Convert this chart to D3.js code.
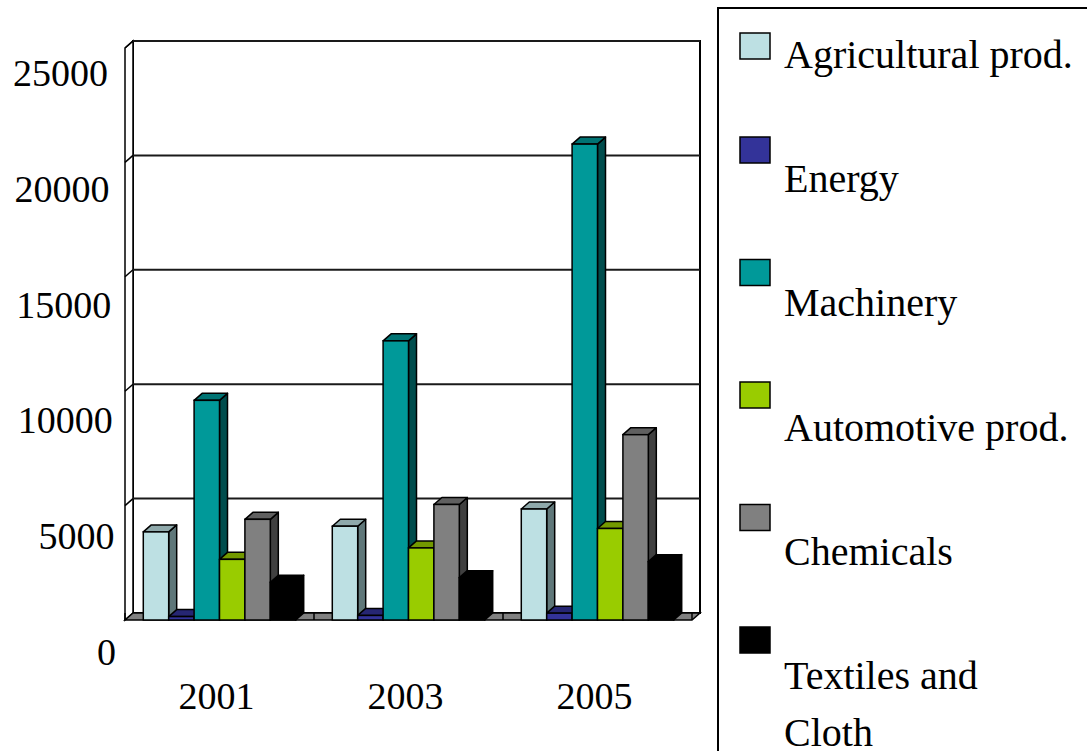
<!DOCTYPE html>
<html>
<head>
<meta charset="utf-8">
<script src="https://cdn.jsdelivr.net/npm/d3@7"></script>
<style>
  body { margin: 0; background: #fff; }
  svg text { font-family: "Liberation Serif", "DejaVu Serif", "Times New Roman", Times, serif; fill: #000; }
</style>
</head>
<body>
<div id="chart"></div>
<script>
// categories and series
const years = ["2001", "2003", "2005"];
const seriesNames = ["Agricultural prod.", "Energy", "Machinery", "Automotive prod.", "Chemicals", "Textiles and Cloth"];
const legendLines = [["Agricultural prod."], ["Energy"], ["Machinery"], ["Automotive prod."], ["Chemicals"], ["Textiles and", "Cloth"]];

// values per year (2001, 2003, 2005)
const agricultural = [3850, 4100, 4850];
const energy = [150, 200, 300];
const machinery = [9600, 12200, 20800];
const automotive = [2650, 3150, 4000];
const chemicals = [4400, 5050, 8100];
const textiles = [1650, 1850, 2550];

const yTicks = [0, 5000, 10000, 15000, 20000, 25000];

// face colours: front, top, side
const faceColors = [
    ["#bde0e3", "#8fa9ab", "#5f7779"],
    ["#333399", "#262673", "#1a1a4d"],
    ["#009999", "#007373", "#004d4d"],
    ["#99cc00", "#739900", "#4d6600"],
    ["#808080", "#606060", "#404040"],
    ["#000000", "#000000", "#000000"]
];

const allSeries = [agricultural, energy, machinery, automotive, chemicals, textiles];

const width = 1087, height = 751;
const depth = { dx: 8, dy: -7 };   // 3D offset from front plane to back wall
const plot = { left: 125, right: 692, bottom: 620, top: 48 };
const serif = '"Liberation Serif", "DejaVu Serif", "Times New Roman", serif';

const svg = d3.select("#chart")
    .append("svg")
    .attr("width", width)
    .attr("height", height)
    .attr("font-family", serif)
    .style("background", "#fff");

// scales on the front plane
const x0 = d3.scaleBand()
    .domain(years)
    .range([plot.left, plot.right]);

const x1 = d3.scaleBand()
    .domain(seriesNames)
    .range([0, x0.bandwidth()])
    .paddingOuter(0.72);

const y = d3.scaleLinear()
    .domain([0, 25000])
    .range([plot.bottom, plot.top]);

// label positions for the value axis
const yLabel = d3.scaleLinear()
    .domain([0, 25000])
    .range([665, 86]);

const bx = plot.left + depth.dx;          // back wall left
const bxr = plot.right + depth.dx;        // back wall right

// back wall
svg.append("rect")
    .attr("x", bx)
    .attr("y", y(25000) + depth.dy)
    .attr("width", bxr - bx)
    .attr("height", y(0) - y(25000))
    .attr("fill", "#fff")
    .attr("stroke", "#000")
    .attr("stroke-width", 2);

// side wall
svg.append("polygon")
    .attr("points", [
        [plot.left, y(0)], [plot.left, y(25000)],
        [bx, y(25000) + depth.dy], [bx, y(0) + depth.dy]
    ].join(" "))
    .attr("fill", "#fff")
    .attr("stroke", "#000")
    .attr("stroke-width", 1.5);

// gridlines on back wall and side wall
const grid = svg.append("g");
grid.selectAll("line.back")
    .data(yTicks.filter(d => d > 0))
    .join("line")
    .attr("class", "back")
    .attr("x1", bx).attr("x2", bxr)
    .attr("y1", d => y(d) + depth.dy).attr("y2", d => y(d) + depth.dy)
    .attr("stroke", "#1a1a1a")
    .attr("stroke-width", 2);
grid.selectAll("line.side")
    .data(yTicks.filter(d => d > 0))
    .join("line")
    .attr("class", "side")
    .attr("x1", plot.left).attr("x2", bx)
    .attr("y1", d => y(d)).attr("y2", d => y(d) + depth.dy)
    .attr("stroke", "#000")
    .attr("stroke-width", 1.5);

// floor
svg.append("polygon")
    .attr("points", [
        [plot.left, y(0)], [plot.right, y(0)],
        [bxr, y(0) + depth.dy], [bx, y(0) + depth.dy]
    ].join(" "))
    .attr("fill", "#808080")
    .attr("stroke", "#000")
    .attr("stroke-width", 1.5);

// category ticks on the floor
svg.append("g")
    .selectAll("line")
    .data(years.map(d => x0(d) + x0.bandwidth()).concat([plot.left]))
    .join("line")
    .attr("x1", d => d).attr("x2", d => d)
    .attr("y1", y(0)).attr("y2", y(0) + depth.dy)
    .attr("stroke", "#000")
    .attr("stroke-width", 1.5);

// bars
const bars = [];
years.forEach((yr, yi) => {
    seriesNames.forEach((s, si) => {
        bars.push({ year: yr, series: s, si: si, value: allSeries[si][yi] });
    });
});

const bw = x1.bandwidth();
const barG = svg.append("g")
    .selectAll("g")
    .data(bars)
    .join("g");

barG.append("polygon")   // side face
    .attr("points", d => {
        const x = x0(d.year) + x1(d.series) + bw, t = y(d.value), b = y(0);
        return [[x, t], [x + depth.dx, t + depth.dy], [x + depth.dx, b + depth.dy], [x, b]].join(" ");
    })
    .attr("fill", d => faceColors[d.si][2])
    .attr("stroke", "#000")
    .attr("stroke-width", 1.5)
    .attr("stroke-linejoin", "round");

barG.append("polygon")   // top face
    .attr("points", d => {
        const x = x0(d.year) + x1(d.series), t = y(d.value);
        return [[x, t], [x + depth.dx, t + depth.dy], [x + bw + depth.dx, t + depth.dy], [x + bw, t]].join(" ");
    })
    .attr("fill", d => faceColors[d.si][1])
    .attr("stroke", "#000")
    .attr("stroke-width", 1.5)
    .attr("stroke-linejoin", "round");

barG.append("rect")      // front face
    .attr("x", d => x0(d.year) + x1(d.series))
    .attr("y", d => y(d.value))
    .attr("width", bw)
    .attr("height", d => y(0) - y(d.value))
    .attr("fill", d => faceColors[d.si][0])
    .attr("stroke", "#000")
    .attr("stroke-width", 1.5);

// value axis labels
svg.append("g")
    .selectAll("text")
    .data(yTicks)
    .join("text")
    .attr("x", d => 108 + 8 * (1 - d / 25000))
    .attr("y", d => yLabel(d))
    .attr("text-anchor", "end")
    .attr("font-family", serif)
    .style("font-size", "38px")
    .text(d => d);

// category labels
svg.append("g")
    .selectAll("text")
    .data(years)
    .join("text")
    .attr("x", d => x0(d) + x0.bandwidth() / 2 - 3)
    .attr("y", 709)
    .attr("text-anchor", "middle")
    .attr("font-family", serif)
    .style("font-size", "38px")
    .text(d => d);

// legend
const legend = svg.append("g");
legend.append("rect")
    .attr("x", 718).attr("y", 8)
    .attr("width", 420).attr("height", 800)
    .attr("fill", "#fff")
    .attr("stroke", "#000")
    .attr("stroke-width", 2);

const entry = legend.selectAll("g.entry")
    .data(seriesNames)
    .join("g")
    .attr("class", "entry");

entry.append("rect")
    .attr("x", 740)
    .attr("y", (d, i) => i === 0 ? 33 : 14.5 + 122.5 * i)
    .attr("width", 30)
    .attr("height", 26)
    .attr("fill", (d, i) => faceColors[i][0])
    .attr("stroke", "#000")
    .attr("stroke-width", 1.5);

entry.append("text")
    .attr("x", 784)
    .attr("y", (d, i) => 68 + 124.2 * i)
    .attr("font-family", serif)
    .style("font-size", "40px")
    .selectAll("tspan")
    .data((d, i) => legendLines[i])
    .join("tspan")
    .attr("x", 784)
    .attr("dy", (d, j) => j === 0 ? 0 : 57)
    .text(d => d);
</script>
</body>
</html>
